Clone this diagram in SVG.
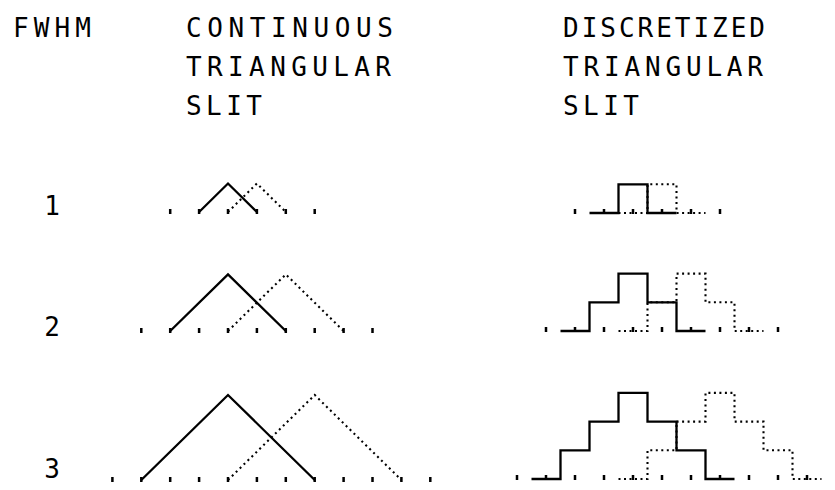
<svg xmlns="http://www.w3.org/2000/svg" width="835" height="490" viewBox="0 0 835 490">
<style>
.t{font-family:"DejaVu Sans Mono","Liberation Mono",monospace;font-size:26px;fill:#000}
.s{fill:none;stroke:#000;stroke-width:2.3;stroke-linejoin:miter}
.d{fill:none;stroke:#000;stroke-width:2.1;stroke-dasharray:2 3.5}
.k{stroke:#000;stroke-width:2.5}
</style>
<rect width="835" height="490" fill="#fff"/>
<g id="labels">
<text class="t" x="13" y="37" textLength="78" lengthAdjust="spacing">FWHM</text>
<text class="t" x="186" y="37" textLength="207" lengthAdjust="spacing">CONTINUOUS</text>
<text class="t" x="186" y="76" textLength="205" lengthAdjust="spacing">TRIANGULAR</text>
<text class="t" x="186" y="115" textLength="76" lengthAdjust="spacing">SLIT</text>
<text class="t" x="563" y="37" textLength="202" lengthAdjust="spacing">DISCRETIZED</text>
<text class="t" x="563" y="76" textLength="200" lengthAdjust="spacing">TRIANGULAR</text>
<text class="t" x="563" y="115" textLength="76" lengthAdjust="spacing">SLIT</text>
<text class="t" x="52" y="215" text-anchor="middle">1</text>
<text class="t" x="52" y="336" text-anchor="middle">2</text>
<text class="t" x="52" y="478" text-anchor="middle">3</text>
</g>
<g id="continuous-1">
<path class="k" d="M170.2,209V214M199.1,209V214M228,209V214M256.9,209V214M285.8,209V214M314.7,209V214"/>
<path class="d" d="M228,212L256.9,183.5L285.8,212"/>
<path class="s" d="M199.1,212L228,183.5L256.9,212"/>
</g>
<g id="continuous-2">
<path class="k" d="M141.3,328V333M170.2,328V333M199.1,328V333M228,328V333M256.9,328V333M285.8,328V333M314.7,328V333M343.6,328V333M372.5,328V333"/>
<path class="d" d="M228,331L285.8,274.4L343.6,331"/>
<path class="s" d="M170.2,331L228,274.4L285.8,331"/>
</g>
<g id="continuous-3">
<path class="k" d="M112.4,477V482M141.3,477V482M170.2,477V482M199.1,477V482M228,477V482M256.9,477V482M285.8,477V482M314.7,477V482M343.6,477V482M372.5,477V482M401.4,477V482M430.3,477V482"/>
<path class="d" d="M228,480L314.7,395L401.4,480"/>
<path class="s" d="M141.3,480L228,395L314.7,480"/>
</g>
<g id="discrete-1">
<path class="k" d="M575,209V214M604,209V214M633,209V214M662,209V214M691,209V214M720,209V214"/>
<path class="d" d="M618.5,213H647.5V184.3H676.5V213H705.5"/>
<path class="s" d="M589.5,213H618.5V184.3H647.5V213H676.5"/>
</g>
<g id="discrete-2">
<path class="k" d="M546,327V332M575,327V332M604,327V332M633,327V332M662,327V332M691,327V332M720,327V332M749,327V332M778,327V332"/>
<path class="d" d="M618.5,331H647.5V302.3H676.5V273.6H705.5V302.3H734.5V331H763.5"/>
<path class="s" d="M560.5,331H589.5V302.3H618.5V273.6H647.5V302.3H676.5V331H705.5"/>
</g>
<g id="discrete-3">
<path class="k" d="M517,475V480M546,475V480M575,475V480M604,475V480M633,475V480M662,475V480M691,475V480M720,475V480M749,475V480M778,475V480M807,475V480"/>
<path class="d" d="M618.5,479H647.5V450.3H676.5V421.6H705.5V392.9H734.5V421.6H763.5V450.3H792.5V479H821.5"/>
<path class="s" d="M531.5,479H560.5V450.3H589.5V421.6H618.5V392.9H647.5V421.6H676.5V450.3H705.5V479H734.5"/>
</g>
</svg>
